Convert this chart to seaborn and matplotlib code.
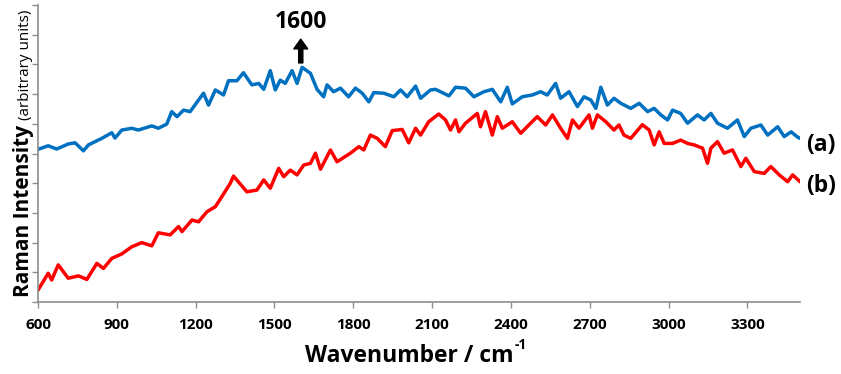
import matplotlib
matplotlib.use("Agg")
import matplotlib.pyplot as plt
import seaborn as sns
import pandas as pd

# Espectro (a) - azul
wn_a = [600, 639, 671, 715, 741, 773, 792, 843, 881, 893, 919, 957, 982, 1033, 1058,
        1090, 1109, 1129, 1154, 1179, 1211, 1230, 1249, 1275, 1306, 1325, 1357, 1382,
        1414, 1440, 1459, 1484, 1503, 1522, 1541, 1567, 1586, 1605, 1637, 1662, 1687,
        1700, 1725, 1751, 1782, 1808, 1834, 1859, 1878, 1916, 1954, 1980, 2005, 2037,
        2056, 2094, 2113, 2164, 2189, 2227, 2259, 2297, 2329, 2361, 2386, 2405, 2443,
        2481, 2513, 2538, 2570, 2589, 2621, 2653, 2678, 2704, 2723, 2742, 2767, 2792,
        2818, 2856, 2888, 2920, 2945, 2970, 2996, 3015, 3046, 3072, 3110, 3135, 3161,
        3186, 3224, 3262, 3288, 3313, 3351, 3377, 3415, 3440, 3466, 3491, 3500]
int_a = [5.14, 5.26, 5.15, 5.32, 5.36, 5.09, 5.29, 5.51, 5.70, 5.52, 5.79, 5.85, 5.79,
         5.93, 5.85, 5.99, 6.41, 6.24, 6.46, 6.41, 6.80, 7.03, 6.63, 7.14, 6.97, 7.45,
         7.45, 7.72, 7.31, 7.36, 7.16, 7.79, 7.14, 7.47, 7.36, 7.79, 7.36, 7.90, 7.70,
         7.16, 6.91, 7.31, 7.08, 7.20, 6.91, 7.20, 7.03, 6.74, 7.05, 7.03, 6.91, 7.14,
         6.91, 7.27, 6.86, 7.14, 7.16, 6.94, 7.23, 7.20, 6.91, 7.08, 7.16, 6.74, 7.23,
         6.67, 6.91, 6.97, 7.08, 6.97, 7.36, 6.86, 7.08, 6.58, 6.91, 6.80, 6.52, 7.23,
         6.63, 6.86, 6.69, 6.52, 6.69, 6.41, 6.52, 6.30, 6.13, 6.46, 6.35, 6.02, 6.30,
         6.13, 6.35, 6.02, 5.85, 6.13, 5.57, 5.85, 5.96, 5.62, 5.90, 5.57, 5.73, 5.55,
         5.51]

# Espectro (b) - rojo
wn_b = [600, 639, 652, 677, 715, 754, 786, 824, 849, 881, 919, 957, 995, 1033, 1058,
        1103, 1135, 1148, 1186, 1211, 1243, 1275, 1300, 1332, 1344, 1395, 1433, 1459,
        1484, 1516, 1535, 1560, 1586, 1611, 1637, 1656, 1675, 1713, 1738, 1789, 1821,
        1840, 1865, 1891, 1922, 1948, 1986, 2011, 2037, 2056, 2087, 2125, 2151, 2170,
        2189, 2202, 2227, 2272, 2284, 2303, 2329, 2348, 2367, 2405, 2437, 2468, 2500,
        2532, 2558, 2589, 2615, 2634, 2659, 2697, 2710, 2729, 2761, 2792, 2811, 2830,
        2856, 2900, 2926, 2945, 2964, 2983, 3015, 3046, 3072, 3097, 3129, 3148, 3161,
        3186, 3211, 3243, 3275, 3294, 3326, 3364, 3389, 3421, 3453, 3472, 3500]
int_b = [0.40, 0.97, 0.74, 1.25, 0.80, 0.88, 0.76, 1.30, 1.13, 1.47, 1.62, 1.86, 2.00,
         1.89, 2.33, 2.26, 2.54, 2.37, 2.76, 2.70, 3.04, 3.21, 3.55, 4.00, 4.24, 3.71,
         3.77, 4.11, 3.83, 4.50, 4.22, 4.44, 4.28, 4.61, 4.67, 5.01, 4.47, 5.12, 4.72,
         5.01, 5.23, 5.12, 5.62, 5.51, 5.23, 5.77, 5.81, 5.36, 5.85, 5.62, 6.07, 6.33,
         6.13, 5.79, 6.13, 5.73, 6.02, 6.35, 5.90, 6.41, 5.62, 6.24, 5.85, 6.07, 5.68,
         5.96, 6.24, 5.96, 6.30, 5.85, 5.51, 6.13, 5.85, 6.30, 5.85, 6.30, 6.07, 5.79,
         5.96, 5.62, 5.51, 5.97, 5.79, 5.29, 5.73, 5.34, 5.34, 5.45, 5.34, 5.29, 5.18,
         4.67, 5.18, 5.40, 5.01, 5.12, 4.56, 4.84, 4.39, 4.33, 4.56, 4.28, 4.05, 4.28,
         4.05]

xticks = [600, 900, 1200, 1500, 1800, 2100, 2400, 2700, 3000, 3300]
pico = 1600

df_a = pd.DataFrame({"wn": wn_a, "I": int_a})
df_b = pd.DataFrame({"wn": wn_b, "I": int_b})

sns.set_style("white")
plt.rcParams["font.family"] = ["Open Sans", "DejaVu Sans"]
plt.rcParams["text.color"] = "black"
plt.rcParams["xtick.labelcolor"] = "black"

fig = plt.figure(figsize=(8.41, 3.74), dpi=100)
ax = fig.add_axes([38 / 841, 72 / 374, 762 / 841, 297 / 374])

sns.lineplot(data=df_a, x="wn", y="I", color="#0070C0", linewidth=2.5, ax=ax)
sns.lineplot(data=df_b, x="wn", y="I", color="#FF0000", linewidth=2.5, ax=ax)

ax.set_xlim(600, 3500)
ax.set_ylim(0, 10)
ax.set_xticks(xticks)
ax.set_xticklabels([str(t) for t in xticks], fontsize=11, fontweight="bold", color="black")
ax.set_yticks(range(0, 11))
ax.set_yticklabels([])
ax.tick_params(axis="both", direction="out", length=4.5, width=1, color="#8C8C8C", left=True, bottom=True)
ax.tick_params(axis="x", pad=7)
for lado in ["top", "right"]:
    ax.spines[lado].set_visible(False)
for lado in ["left", "bottom"]:
    ax.spines[lado].set_color("#8C8C8C")
    ax.spines[lado].set_linewidth(1.2)

ax.set_xlabel("")
ax.set_ylabel("")

# Etiqueta del eje x con superindice
xl = fig.text(305 / 841, 12 / 374, "Wavenumber / cm", ha="left", va="baseline",
              fontsize=16.5, fontweight="bold")
fig.canvas.draw()
bb = xl.get_window_extent()
fig.text(bb.x1 / 841 + 0.001, 25 / 374, "-1", ha="left", va="baseline",
         fontsize=10, fontweight="bold")

# Etiqueta del eje y en dos partes
yl = fig.text(29 / 841, 77 / 374, "Raman Intensity", rotation=90, rotation_mode="anchor",
              ha="left", va="baseline", fontsize=15, fontweight="bold")
fig.canvas.draw()
bb = yl.get_window_extent()
fig.text(29 / 841, (bb.y1 + 5) / 374, "(arbitrary units)", rotation=90, rotation_mode="anchor",
         ha="left", va="baseline", fontsize=11)

# Flecha del pico
ax.annotate("", xy=(pico, 8.85), xytext=(pico, 8.05),
            arrowprops=dict(facecolor="black", edgecolor="black", width=3, headwidth=10, headlength=7, shrink=0))
ax.text(pico, 9.43, str(pico), ha="center", va="center", fontsize=16.5, fontweight="bold", clip_on=False)

ax.text(3525, 5.29, "(a)", ha="left", va="center", fontsize=16.5, fontweight="bold", clip_on=False)
ax.text(3525, 3.91, "(b)", ha="left", va="center", fontsize=16.5, fontweight="bold", clip_on=False)

fig.savefig("out.png", dpi=100)
